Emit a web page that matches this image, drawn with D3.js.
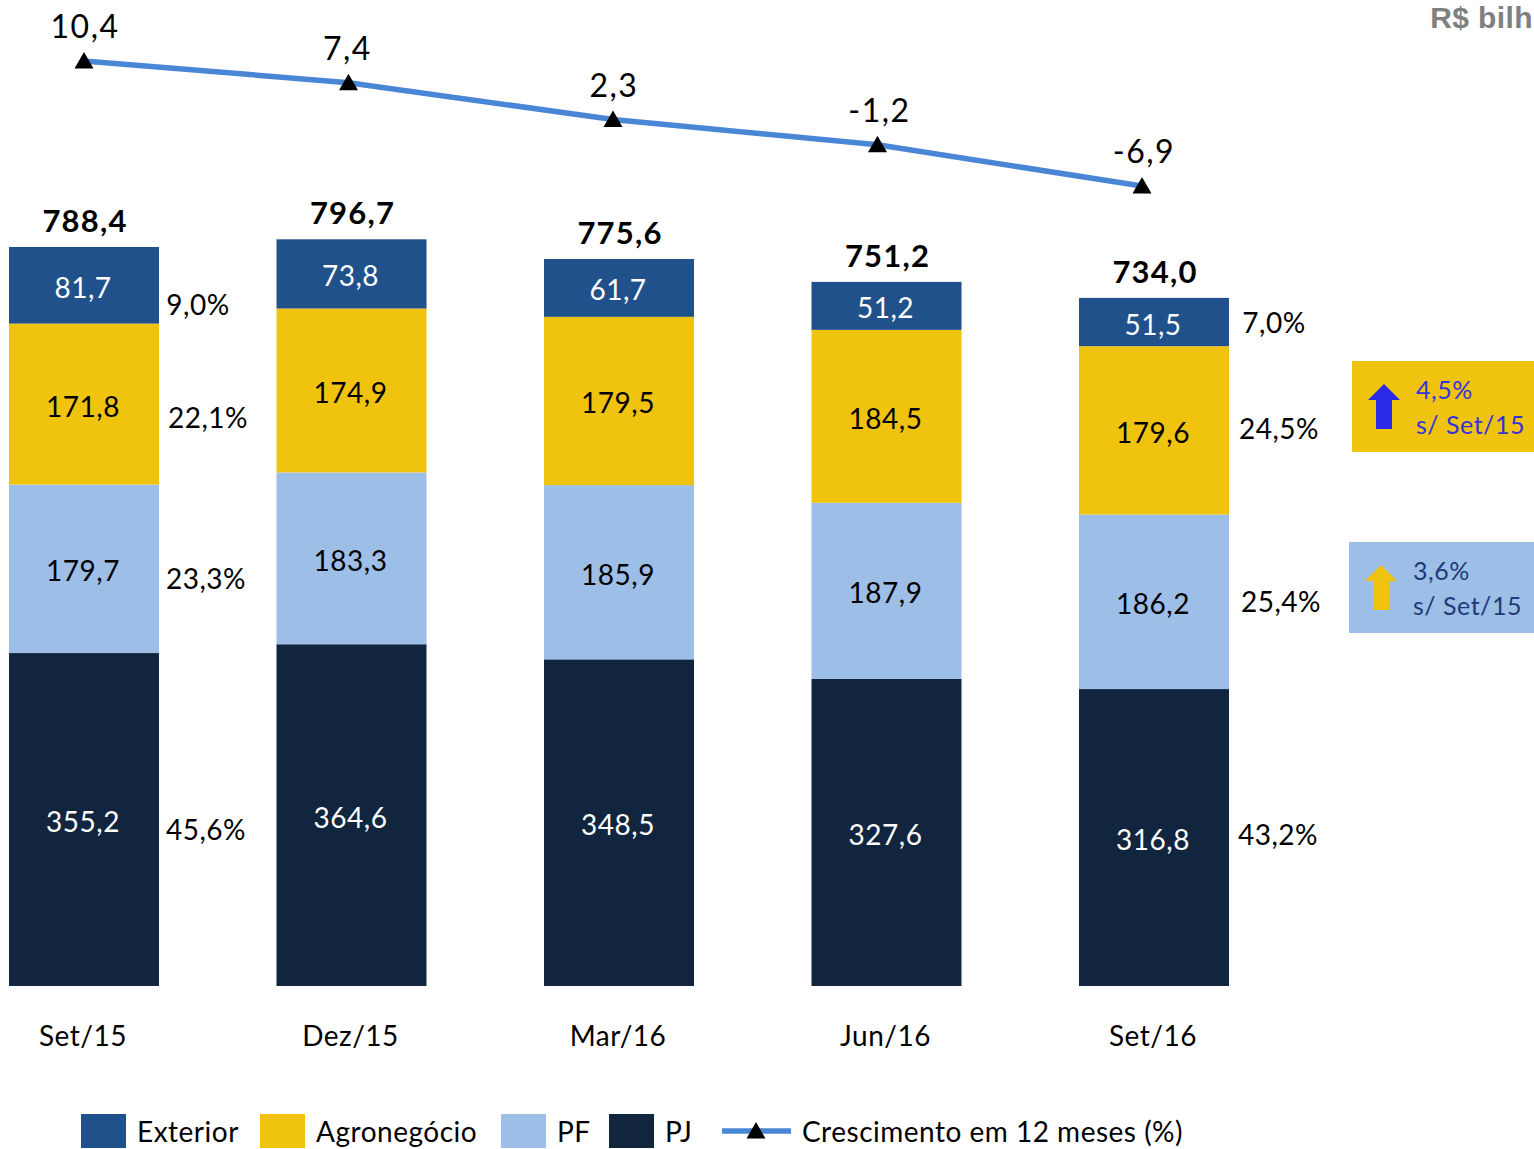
<!DOCTYPE html>
<html><head><meta charset="utf-8">
<script src="https://cdn.jsdelivr.net/npm/d3@7/dist/d3.min.js"></script>
<style>html,body{margin:0;padding:0;background:#fff;overflow:hidden}svg{display:block}text{font-family:Lato,Carlito,sans-serif;letter-spacing:.5px}</style>
</head><body><svg id="c" width="1534" height="1149"></svg>
<script>
const categories=["Set/15","Dez/15","Mar/16","Jun/16","Set/16"];
const pj=[355.2,364.6,348.5,327.6,316.8];
const pf=[179.7,183.3,185.9,187.9,186.2];
const agro=[171.8,174.9,179.5,184.5,179.6];
const exterior=[81.7,73.8,61.7,51.2,51.5];
const totals=[788.4,796.7,775.6,751.2,734.0];
const growth=[10.4,7.4,2.3,-1.2,-6.9];
const shareFirst=[45.6,23.3,22.1,9.0];
const shareLast=[43.2,25.4,24.5,7.0];
const seriesNames=["PJ","PF","Agronegócio","Exterior"];
const seriesColors=["#11253f","#9dbee6","#f0c30f","#20518a"];
const labelColors=["#fff","#000","#000","#fff"];
const lineColor="#4a86d6";
const fmt=v=>d3.format(".1f")(v).replace(".",",").replace("−","-");
const svg=d3.select("#c");
const x=d3.scaleBand().domain(categories).range([9,1229]).paddingInner(117.5/267.5).paddingOuter(0);
const bw=x.bandwidth();
const y=d3.scaleLinear().domain([0,788.4]).range([986,247]);
const lx=d3.scalePoint().domain(categories).range([84,1142]);
const ly=d3.scaleLinear().domain([-6.9,10.4]).range([186,61]);
const rows=categories.map((c,i)=>({c,PJ:pj[i],PF:pf[i],"Agronegócio":agro[i],Exterior:exterior[i]}));
const stacked=d3.stack().keys(seriesNames)(rows);
stacked.forEach((s,k)=>{
  const g=svg.append("g");
  g.selectAll("rect").data(s).join("rect")
    .attr("x",d=>x(d.data.c)).attr("width",bw)
    .attr("y",d=>y(d[1])).attr("height",d=>y(d[0])-y(d[1]))
    .attr("fill",seriesColors[k]);
  g.selectAll("text").data(s).join("text")
    .attr("x",d=>x(d.data.c)+bw/2-1)
    .attr("y",d=>(y(d[0])+y(d[1]))/2+12.5)
    .attr("text-anchor","middle").attr("font-size",28).attr("fill",labelColors[k])
    .text(d=>fmt(d[1]-d[0]));
});
svg.append("g").selectAll("text").data(totals).join("text")
  .attr("x",(d,i)=>x(categories[i])+bw/2+1).attr("y",d=>y(d)-15)
  .attr("text-anchor","middle").attr("font-size",31).attr("font-weight",700).attr("fill","#000")
  .style("letter-spacing","1.2px").text(fmt);
svg.append("g").selectAll("text").data(categories).join("text")
  .attr("x",c=>x(c)+bw/2-1).attr("y",1046)
  .attr("text-anchor","middle").attr("font-size",28).attr("fill","#000").text(c=>c);
// share labels
const pctFirstPos=[[206,840],[206,589],[208,428],[198,315]];
const pctLastPos=[[1278,845],[1281,612],[1279,439],[1274,333]];
[[shareFirst,pctFirstPos],[shareLast,pctLastPos]].forEach(([vals,pos])=>{
  svg.append("g").selectAll("text").data(vals).join("text")
    .attr("x",(d,i)=>pos[i][0]).attr("y",(d,i)=>pos[i][1])
    .attr("text-anchor","middle").attr("font-size",28).attr("fill","#000")
    .text(d=>fmt(d)+"%");
});
// line
const line=d3.line().x((d,i)=>lx(categories[i])).y(d=>ly(d));
svg.append("path").datum(growth).attr("d",line).attr("fill","none").attr("stroke",lineColor).attr("stroke-width",5.5);
const tri=d3.symbol(d3.symbolTriangle).size(156)();
svg.append("g").selectAll("path").data(growth).join("path")
  .attr("d",tri).attr("fill","#000")
  .attr("transform",(d,i)=>`translate(${lx(categories[i])},${ly(d)+2})`);
const lblDx=[1,-1,1,2,2];
svg.append("g").selectAll("text").data(growth).join("text")
  .attr("x",(d,i)=>lx(categories[i])+lblDx[i]).attr("y",d=>ly(d)-23)
  .attr("text-anchor","middle").attr("font-size",32).attr("fill","#000")
  .style("letter-spacing","1.5px").text(fmt);
// unit
svg.append("text").attr("x",1533).attr("y",27.5).attr("text-anchor","end")
  .attr("font-size",30).attr("font-weight",700).attr("fill","#808080")
  .style("font-family","'Liberation Sans',Arial,sans-serif").style("letter-spacing",".4px").text("R$ bilh");
// callouts
const callouts=[
 {fill:"#f0c30f",x:1352,y:361,w:182,h:91,arrow:"#2a2ae8",text:"#3333dd",pct:"4,5%",ax:1384,tx:1416,t1:399,t2:434},
 {fill:"#9dbee6",x:1349,y:542,w:185,h:91,arrow:"#f0c30f",text:"#1f3a78",pct:"3,6%",ax:1381,tx:1413,t1:580,t2:615}];
callouts.forEach(c=>{
  svg.append("rect").attr("x",c.x).attr("y",c.y).attr("width",c.w).attr("height",c.h).attr("fill",c.fill);
  const top=c.y+23, p=d3.path();
  p.moveTo(c.ax,top);p.lineTo(c.ax+16,top+16);p.lineTo(c.ax+8,top+16);p.lineTo(c.ax+8,top+45);
  p.lineTo(c.ax-8,top+45);p.lineTo(c.ax-8,top+16);p.lineTo(c.ax-16,top+16);p.closePath();
  svg.append("path").attr("d",p.toString()).attr("fill",c.arrow);
  svg.append("text").attr("x",c.tx).attr("y",c.t1).attr("font-size",25).attr("fill",c.text).text(c.pct);
  svg.append("text").attr("x",c.tx).attr("y",c.t2).attr("font-size",25).attr("fill",c.text).text("s/ Set/15");
});
// legend
const legend=[["Exterior",3,81,137],["Agronegócio",2,260,316],["PF",1,501,557],["PJ",0,609,665]];
legend.forEach(([n,k,sx,tx])=>{
  svg.append("rect").attr("x",sx).attr("y",1114).attr("width",45).attr("height",34).attr("fill",seriesColors[k]);
  svg.append("text").attr("x",tx).attr("y",1142).attr("font-size",28).attr("fill","#000").text(n);
});
svg.append("line").attr("x1",722).attr("x2",791).attr("y1",1131).attr("y2",1131).attr("stroke",lineColor).attr("stroke-width",5.5);
svg.append("path").attr("d",tri).attr("fill","#000").attr("transform","translate(756,1133)");
svg.append("text").attr("x",802).attr("y",1142).attr("font-size",28).attr("fill","#000").text("Crescimento em 12 meses (%)");
</script></body></html>
